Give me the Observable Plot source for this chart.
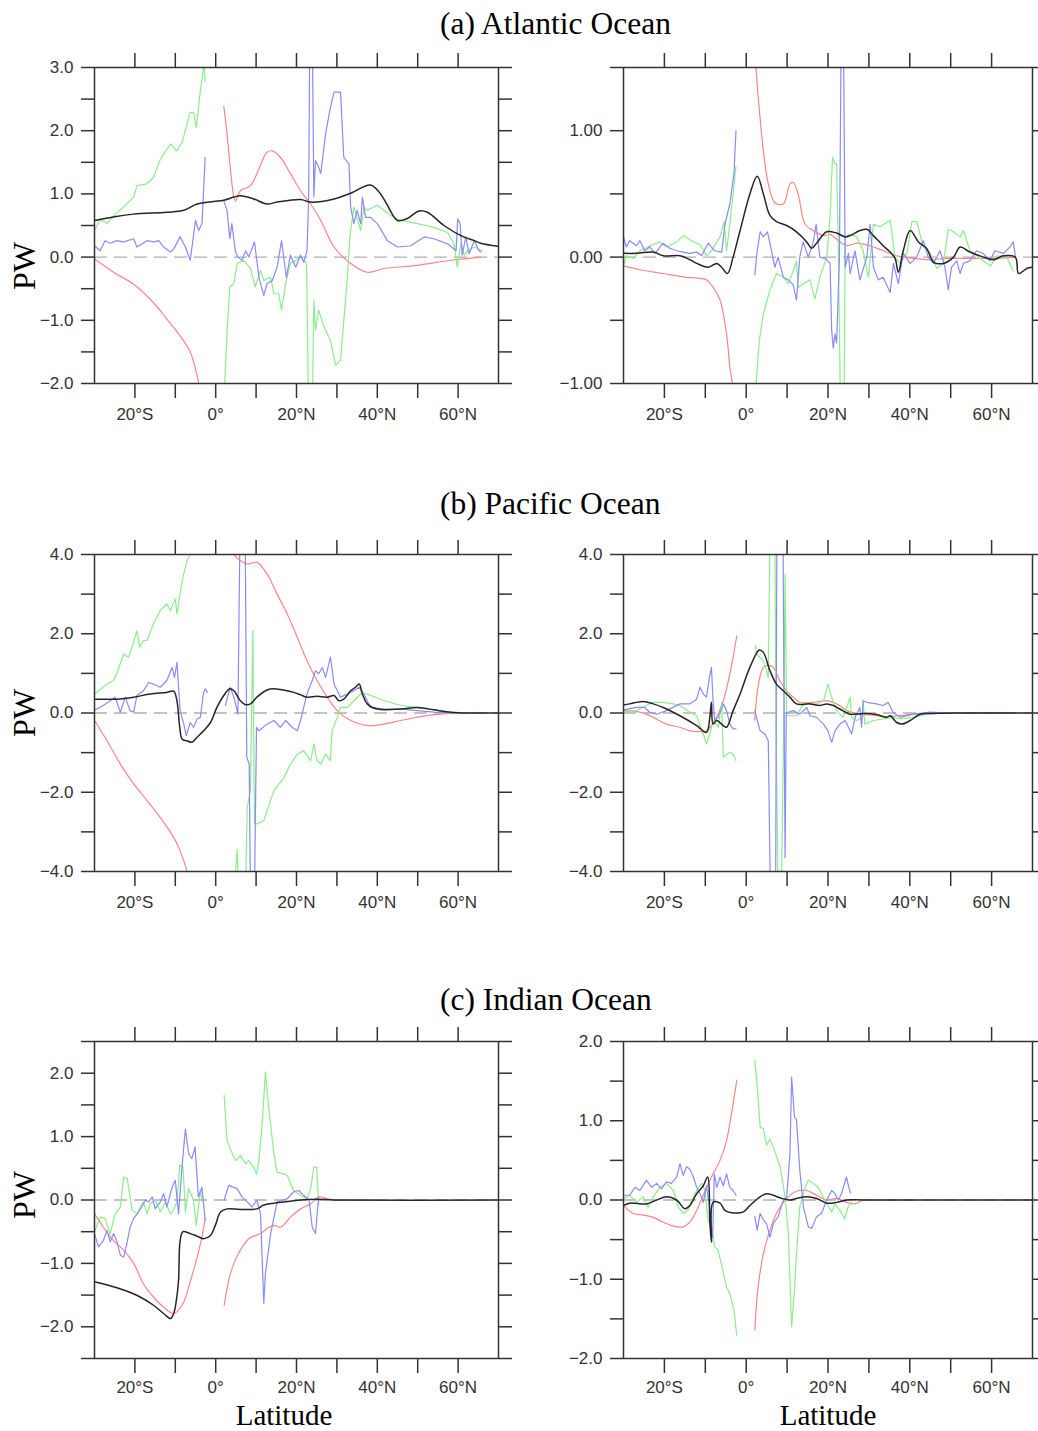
<!DOCTYPE html>
<html><head><meta charset="utf-8">
<script src="https://cdn.jsdelivr.net/npm/d3@7"></script>
<script src="https://cdn.jsdelivr.net/npm/@observablehq/plot@0.6"></script>
<style>
body{margin:0;background:#fff;}
#fig{position:relative;width:1038px;height:1431px;overflow:hidden;background:#fff;}
.panel{position:absolute;}
#overlay{position:absolute;left:0;top:0;pointer-events:none;}
</style></head><body><div id="fig"></div>
<script>
const GAP = [NaN, NaN];

// ---- tick values / labels ----
const xTicks = [-20,-10,0,10,20,30,40,50,60];
const xLabelTicks = [-20,0,20,40,60];
const yTicksAtlL = [-2,-1.5,-1,-0.5,0,0.5,1,1.5,2,2.5,3];
const yLabelsAtlL = [-2,-1,0,1,2,3];
const yTicksAtlR = [-1,-0.5,0,0.5,1,1.5];
const yLabelsAtlR = [-1,0,1];
const yTicksPac = [-4,-3,-2,-1,0,1,2,3,4];
const yLabelsPac = [-4,-2,0,2,4];
const yTicksIndL = [-2.5,-2,-1.5,-1,-0.5,0,0.5,1,1.5,2,2.5];
const yLabelsIndL = [-2,-1,0,1,2];
const yTicksIndR = [-2,-1.5,-1,-0.5,0,0.5,1,1.5,2];
const yLabelsIndR = [-2,-1,0,1,2];
const titles = ["(a) Atlantic Ocean","(b) Pacific Ocean","(c) Indian Ocean"];

// ---- (a) Atlantic, left ----
const atlL_black = [[-30,0.58],[-25,0.64],[-20.3,0.68],[-12.1,0.71],[-7.9,0.74],[-4.6,0.84],[-0.5,0.88],[2,0.9],[4.5,0.95],[6.1,0.97],[9.4,0.92],[12.7,0.84],[15.2,0.87],[21,0.91],[23.5,0.87],[29.3,0.92],[33.4,1.01],[38.3,1.14],[40.8,1.0],[42.5,0.82],[45,0.58],[47.4,0.61],[50.3,0.73],[52.4,0.71],[56.5,0.5],[60.7,0.34],[64,0.26],[65.6,0.22],[70,0.17]];
const atlL_red = [[-30,-0.03],[-25,-0.25],[-20.3,-0.43],[-15,-0.75],[-12.1,-0.98],[-9.6,-1.18],[-6.3,-1.5],[-4.2,-2.0],[-3,-2.6],GAP,[2.0,2.39],[2.8,1.95],[3.6,1.42],[4.5,0.95],[4.9,0.89],[6.1,1.05],[8.6,1.13],[10.2,1.32],[12.7,1.66],[14,1.68],[16,1.58],[18.5,1.32],[21,1.05],[23.5,0.84],[26,0.58],[29.3,0.16],[33.4,-0.1],[37.5,-0.24],[41.7,-0.18],[49.9,-0.13],[58.2,-0.05],[65.6,0]];
const atlL_green = [[-30,0.42],[-28.6,0.6],[-26.9,0.53],[-24.9,0.68],[-22.8,0.79],[-20.3,0.95],[-19.5,1.13],[-17,1.16],[-15.4,1.26],[-13.7,1.55],[-11.2,1.79],[-9.6,1.68],[-8.3,1.82],[-6.3,2.29],[-5.5,2.29],[-4.8,2.05],[-3.8,2.63],[-2.9,3.05],[-2.6,2.78],GAP,[2.0,-2.3],[2.8,-1.21],[3.5,-0.47],[4.5,-0.42],[5.3,-0.1],[6.9,-0.05],[8.6,-0.18],[9.8,-0.47],[11.1,-0.21],[11.9,-0.37],[13.6,-0.32],[14.4,-0.58],[15.6,-0.58],[16.3,-0.84],[17.3,-0.42],[18.5,-0.1],[21,0],[22.5,-0.1],[23.0,-2.5],[23.9,-2.5],[24.3,-0.68],[24.7,-1.16],[25.5,-0.84],[26.8,-1.1],[28.4,-1.32],[29.7,-1.71],[30.9,-1.63],[32.6,-0.32],[33.2,0.32],[34.2,0.79],[35.9,0.42],[36.7,0.79],[37.5,0.74],[40,0.82],[43.3,0.66],[45.8,0.58],[49.9,0.53],[54,0.47],[57.4,0.39],[59,0.21],[59.8,-0.16],[60.7,0.21],[61.5,0.03],[62.3,0.1],[64,0.16],[66,0.1]];
const atlL_blue = [[-30,0.18],[-28.6,0.1],[-27.4,0.26],[-26.1,0.22],[-24.5,0.26],[-22.8,0.24],[-20.3,0.29],[-19.5,0.16],[-17,0.26],[-15.4,0.24],[-14.1,0.26],[-12.9,0.16],[-11.2,0.08],[-10.4,0.13],[-8.8,0.32],[-7.5,0.16],[-6.3,-0.05],[-5,0.58],[-4.2,0.42],[-3.4,0.53],[-2.6,1.58],GAP,[2.0,0.89],[2.8,0.74],[3.5,0.29],[4.0,0.53],[4.9,0.08],[5.5,0],[6.5,-0.05],[7.4,0.1],[8.2,0],[9.6,0.24],[10.7,-0.32],[11.9,-0.61],[12.7,-0.42],[14,-0.37],[15.2,-0.16],[16.3,0.26],[17.5,-0.32],[18.5,0.03],[19.8,-0.16],[21,0.03],[21.8,-0.08],[22.6,0.1],[23.0,0.9],[23.3,3.6],[23.9,3.6],[24.3,0.95],[24.7,1.53],[25.5,1.42],[26,1.32],[27.2,1.95],[28.4,2.37],[29.3,2.61],[30.9,2.61],[31.7,1.58],[33,1.47],[33.4,0.79],[34.2,0.53],[35,0.74],[35.9,0.53],[36.3,0.95],[37.1,0.63],[38.3,0.63],[40,0.53],[42.5,0.26],[45,0.16],[48.3,0.18],[51.6,0.32],[54,0.29],[57.4,0.21],[59.5,0.1],[59.9,0.6],[60.5,0.53],[61,0.03],[61.9,0.32],[62.7,0.05],[64,0.26],[65.2,0.1],[65.6,0.08]];

// ---- (a) Atlantic, right ----
const atlR_black = [[-30,0.03],[-26.8,0.03],[-22.7,0.04],[-20.3,0.01],[-16.2,0.01],[-13.8,-0.02],[-12.1,-0.05],[-9.3,-0.08],[-7.2,-0.05],[-6,-0.08],[-4.6,-0.13],[-3.2,0],[-1.5,0.21],[0.9,0.5],[2.7,0.64],[4.2,0.5],[5.8,0.33],[7.4,0.28],[9.9,0.25],[12.3,0.2],[14.8,0.12],[16,0.07],[17.2,0.11],[19.7,0.2],[22.1,0.19],[24.2,0.16],[25.4,0.17],[27.8,0.21],[29.5,0.22],[31.1,0.17],[33.5,0.09],[35.2,0.04],[36.4,-0.01],[37.2,-0.12],[38.4,0.05],[40.1,0.21],[42.1,0.12],[44.1,0.07],[45.8,-0.04],[48.2,-0.05],[50.7,0],[52.3,0.08],[54.7,0.04],[58,0],[60.5,-0.02],[62.9,0.01],[65.8,0],[66.6,-0.13],[68.6,-0.09],[70,-0.08]];
const atlR_red = [[-30,-0.07],[-26,-0.1],[-20.3,-0.13],[-14.6,-0.16],[-9.7,-0.18],[-8.1,-0.24],[-6.4,-0.34],[-4.8,-0.61],[-4,-0.87],[-3.4,-1.0],[-2.9,-1.3],GAP,[2.2,1.8],[2.4,1.5],[3.4,1.1],[4.2,0.84],[5.4,0.58],[7,0.43],[9.1,0.42],[10.7,0.58],[11.5,0.59],[12.7,0.5],[14.4,0.26],[16.4,0.21],[18.9,0.17],[20.5,0.18],[22.9,0.12],[24.6,0.09],[27,0.11],[30.3,0.09],[33.5,0.05],[36.8,0.01],[40.9,-0.01],[45,-0.02],[49,-0.01],[53.1,-0.01],[61.3,-0.01],[65.8,0]];
const atlR_green = [[-30,-0.07],[-29.3,0.01],[-27.6,-0.01],[-26,0.05],[-22.7,0.1],[-21.1,0.12],[-19.5,0.08],[-17,0.12],[-15.4,0.17],[-12.9,0.12],[-11.3,0.1],[-9.7,0.01],[-8.5,0.05],[-6.4,0.16],[-5.4,0.28],[-4.8,0.05],[-4,0.26],[-2.5,0.72],GAP,[2.2,-1.3],[2.4,-1.0],[3.2,-0.66],[4.2,-0.45],[5.8,-0.26],[7.4,-0.13],[9.1,-0.16],[10.3,-0.21],[11.5,-0.11],[12.3,-0.03],[12.7,-0.24],[14,-0.21],[15.6,-0.18],[16.8,-0.33],[18,-0.16],[19.7,0],[20.5,0.32],[21.1,0.79],[21.7,0.74],[22.1,0.74],[22.5,0.11],[23.1,-1.3],[23.9,-1.3],[24.2,0.16],[25.4,0.18],[27,0.16],[28.6,0.05],[29.9,-0.16],[31.1,0.26],[32.7,0.24],[35.2,0.29],[36.4,0],[37.6,-0.05],[39.3,0.03],[40.5,0.28],[41.7,0.28],[43.3,0.08],[45,0.03],[46.6,-0.09],[48.2,-0.05],[49.4,0.22],[50.7,0.2],[52.3,0.16],[53.1,0.21],[54.7,0.05],[57.2,-0.01],[59.7,-0.07],[61.3,0.01],[63.7,0],[65.3,-0.11]];
const atlR_blue = [[-30,0.16],[-29.3,0.08],[-28.5,0.13],[-26.8,0.09],[-26,0.13],[-24.8,0.05],[-23.6,0.08],[-22.3,0.03],[-20.3,0.11],[-18.7,0.07],[-17,0.05],[-15.4,0.04],[-13.8,0.03],[-12.1,0.04],[-10.9,0.01],[-9.3,0.11],[-7.7,0.05],[-6,0.04],[-5.2,0.26],[-4,0.42],[-3,0.66],[-2.5,1.0],GAP,[2.1,-0.14],[2.7,0.05],[3.4,0.2],[4.2,0.16],[5.2,0.2],[5.8,0.11],[7,-0.08],[7.8,0],[9.1,-0.16],[10.3,-0.18],[11.5,-0.22],[12.3,-0.34],[13.1,0],[13.9,0.12],[15.2,0],[16.4,0.12],[17.1,0.26],[18,0],[19.3,-0.01],[20.5,-0.05],[20.9,-0.58],[21.3,-0.72],[21.7,-0.61],[22.1,-0.68],[22.8,0],[23.2,1.7],[23.8,1.7],[24.2,-0.08],[25,0.03],[25.4,-0.13],[26.6,0.05],[27.8,-0.18],[29.5,0],[30.3,0.26],[31.1,-0.08],[32.3,-0.18],[33.5,-0.16],[35.2,-0.28],[36,-0.05],[37.2,-0.21],[38.4,0.03],[40.1,-0.05],[41.7,0],[43.3,0.13],[44.5,0],[45.8,-0.05],[47.4,0.05],[48.6,-0.08],[49.4,-0.26],[50.2,-0.08],[51.5,-0.03],[52.3,-0.13],[53.1,-0.05],[54.7,-0.03],[56.3,0.05],[57.9,0.03],[59.6,-0.03],[60.8,0.05],[62.9,0.03],[64.5,0.08],[65.3,0.12],[65.8,0.01]];

// ---- (b) Pacific, left ----
const pacL_black = [[-30,0.35],[-24.5,0.35],[-20.3,0.4],[-16.2,0.48],[-12.1,0.52],[-10.4,0.55],[-9.6,0.31],[-8.9,-0.36],[-8.3,-0.66],[-7.1,-0.7],[-5.9,-0.74],[-4.6,-0.61],[-3,-0.45],[-1.3,-0.24],[0.3,0.14],[2,0.44],[3.5,0.61],[4.5,0.56],[6.1,0.31],[7.4,0.21],[8.6,0.23],[10.2,0.4],[12.7,0.58],[14.4,0.61],[17.7,0.56],[19.3,0.52],[21,0.46],[22.6,0.4],[25.1,0.42],[27.6,0.4],[29.3,0.44],[30.5,0.31],[31.7,0.35],[33.4,0.56],[34.6,0.65],[35.5,0.73],[36.3,0.48],[37.5,0.23],[40,0.1],[45.8,0.1],[49.9,0.14],[54,0.08],[58.2,0.02],[62.3,0],[70,0]];
const pacL_red = [[-30,-0.19],[-26.9,-0.7],[-23.6,-1.29],[-20.3,-1.79],[-17,-2.21],[-13.7,-2.64],[-10.4,-3.14],[-8.8,-3.48],[-7.1,-4.0],[-6,-4.5],GAP,[4.2,4.1],[4.5,4.0],[6.1,3.85],[7.8,3.76],[10.2,3.8],[12.7,3.51],[15.2,3.0],[17.7,2.5],[20.2,1.91],[22.6,1.32],[25.1,0.82],[27.6,0.4],[30.1,0.06],[33.4,-0.19],[37.5,-0.32],[41.7,-0.28],[45.8,-0.19],[50.7,-0.09],[55.7,-0.03],[62.3,0],[65.6,0]];
const pacL_green = [[-30,0.48],[-26.9,0.73],[-25.3,0.82],[-24.5,0.99],[-22.8,1.49],[-21.6,1.4],[-20.7,1.66],[-19.5,2.08],[-18.8,1.66],[-17.9,1.83],[-17,1.83],[-15.4,2.25],[-13.7,2.59],[-12.1,2.75],[-11.2,2.59],[-10,2.88],[-9.6,2.5],[-8.3,3.34],[-7.1,3.85],[-6.3,4.0],[-5.5,4.5],GAP,[4.6,-4.5],[5.3,-3.45],[5.7,-4.5],[7.4,-4.5],[7.8,-2.38],[8.6,-1.96],[9.2,2.08],[9.6,-2.8],[10.2,-2.8],[11.9,-2.72],[14.4,-1.96],[16.9,-1.63],[18.5,-1.29],[20.2,-1.04],[21.8,-0.95],[23.5,-1.2],[24.3,-0.78],[25.1,-1.2],[26,-1.29],[27.2,-1.04],[28.4,-1.2],[28.8,-0.45],[30.1,-0.11],[30.9,0.14],[32.6,0.14],[34.2,0.31],[35.9,0.48],[37.5,0.48],[41.7,0.31],[45.8,0.19],[49.9,0.14],[54,0.08],[58.2,0.02],[62.3,0]];
const pacL_blue = [[-30,0.08],[-28.6,0.14],[-26.1,0.31],[-24.9,0.4],[-23.6,0.02],[-22.4,0.4],[-21.2,0.06],[-20.3,0.02],[-19.5,0.44],[-17.9,0.56],[-16.6,0.77],[-15.4,0.73],[-13.7,0.65],[-12.1,0.82],[-10.8,1.15],[-10.2,0.9],[-9.6,1.28],[-8.8,0.06],[-7.9,-0.28],[-7.3,-0.57],[-6.3,-0.24],[-5.5,-0.36],[-4.6,-0.15],[-3.8,-0.11],[-3,0.52],[-2.6,0.61],[-2.1,0.52],GAP,[2.4,0.19],[3.6,0.65],[4.5,0.4],[5.5,-0.03],[6.0,4.5],[7.3,4.5],[7.7,-1.12],[8.3,-1.29],[8.6,-4.5],[9.6,-4.5],[10.1,-0.36],[10.7,-0.45],[12.7,-0.28],[14.4,-0.19],[16,-0.36],[17.3,-0.19],[18.9,-0.36],[20.2,-0.45],[21,-0.19],[22.6,0.48],[23.9,0.82],[24.7,1.07],[25.5,0.99],[26.4,1.15],[27.2,0.9],[28.4,1.41],[29.3,0.73],[30.1,0.56],[30.9,0.4],[32.6,0.48],[34.2,0.56],[35.5,0.65],[36.7,0.48],[38.3,0.14],[41.7,0.1],[45.8,0.1],[49.9,0.06],[54,0.02],[59,0]];

// ---- (b) Pacific, right ----
const pacR_black = [[-30,0.2],[-28.5,0.23],[-25.2,0.29],[-22.7,0.23],[-20.3,0.14],[-16.2,-0.07],[-12.1,-0.32],[-9.7,-0.49],[-8.9,-0.11],[-8.5,0.27],[-8.1,-0.28],[-7.2,-0.19],[-5.6,-0.32],[-4.8,-0.36],[-3.2,0.06],[-1.5,0.48],[0.9,1.15],[3.2,1.59],[4.2,1.53],[5.8,1.07],[7.4,0.73],[9.1,0.56],[10.7,0.4],[12.3,0.23],[15.6,0.23],[18,0.19],[19.7,0.23],[21.3,0.19],[22.9,0.1],[25.4,-0.03],[28.6,-0.01],[31.9,-0.04],[34.3,-0.11],[35.2,-0.07],[36.8,-0.24],[38,-0.28],[40.1,-0.19],[42.5,-0.03],[45,-0.01],[53.1,0],[70,0]];
const pacR_red = [[-30,0.06],[-26,0.02],[-22.7,-0.11],[-19.5,-0.28],[-16.2,-0.36],[-13.8,-0.45],[-11.3,-0.47],[-9.7,-0.45],[-7.7,-0.19],[-5.6,0.31],[-4,0.99],[-3.2,1.41],[-2.3,1.95],GAP,[2.1,-0.18],[3,0.73],[4.2,1.15],[5.4,1.2],[6.6,1.15],[8.2,0.82],[9.9,0.56],[11.5,0.4],[13.1,0.27],[16.4,0.27],[19.7,0.31],[22.1,0.23],[24.6,0.06],[27,-0.03],[30.3,-0.05],[33.5,-0.09],[36.8,-0.07],[40.9,-0.03],[45,-0.01],[53.1,0],[65.8,0]];
const pacR_green = [[-30,0.02],[-26.8,0.06],[-24.4,0.19],[-22.7,0.27],[-20.3,0.27],[-17.8,0.23],[-16.2,0.19],[-13.8,0.02],[-12.1,-0.07],[-11.3,-0.32],[-10.5,-0.53],[-9.7,-0.78],[-8.9,-0.53],[-8.1,-0.19],[-6.8,-0.36],[-6,0.27],[-5.6,-1.12],[-4.8,-1.04],[-4,-0.99],[-3.2,-1.04],[-2.5,-1.2],GAP,[2.3,1.7],[2.5,1.49],[4.2,1.32],[5.4,0.9],[5.8,4.5],[7,4.5],[7.3,-0.28],[7.8,-4.5],[8.6,-4.5],[9.2,-0.1],[9.5,3.5],[9.9,-0.07],[11.5,-0.07],[12.3,-0.07],[14,0.23],[17.2,0.23],[18.9,0.31],[20,0.73],[20.9,0.4],[22.1,0.06],[23.7,-0.11],[24.6,0.14],[25.4,0.4],[25.8,-0.11],[27,-0.19],[28.5,-0.11],[28.6,0.31],[29,-0.28],[31.1,-0.19],[33.5,-0.15],[35.9,-0.11],[37.6,-0.15],[40.9,-0.11],[44.1,-0.03],[49.1,0],[53.1,0]];
const pacR_blue = [[-30,0.08],[-26.8,0.14],[-24.8,0.14],[-23.6,0.02],[-21.9,-0.03],[-19.5,0.06],[-16.2,0.23],[-13.8,0.23],[-12.1,0.35],[-11.3,0.65],[-10.5,0.48],[-9.7,0.4],[-9,0.9],[-8.5,1.15],[-8.1,0.31],[-7.7,-0.19],[-6.8,-0.11],[-5.6,0.23],[-4.8,0.06],[-4,-0.28],[-3.2,-0.4],[-2.5,-0.4],GAP,[2.1,0.06],[3.4,-0.45],[4.6,-0.53],[5.4,-0.7],[5.9,-4.5],[7.2,-4.5],[7.5,4.5],[9.0,4.5],[9.5,-3.65],[9.8,0.0],[10.3,0.02],[11.5,0.06],[13.1,-0.03],[14.8,0.14],[15.6,-0.07],[17.2,-0.11],[18.9,-0.28],[20,-0.45],[20.9,-0.74],[21.7,-0.45],[22.9,-0.28],[24.2,-0.19],[25.8,-0.53],[26.6,-0.11],[27.8,0.14],[28.2,-0.36],[28.6,0.31],[29.5,0.27],[31.9,0.23],[33.5,0.19],[34.7,0.27],[35.9,0.02],[37.6,-0.11],[40.9,-0.03],[45,0.02],[49.1,0],[53.1,-0.01],[61.3,0],[65.8,0]];

// ---- (c) Indian, left ----
const indL_black = [[-30,-1.29],[-26.9,-1.34],[-22.8,-1.42],[-18.7,-1.53],[-15.4,-1.66],[-12.9,-1.79],[-11.2,-1.87],[-10.4,-1.79],[-9.8,-1.61],[-9.2,-1.27],[-8.8,-0.64],[-8.1,-0.5],[-6.3,-0.53],[-4.6,-0.57],[-3,-0.61],[-1.3,-0.56],[-0.1,-0.4],[1.2,-0.19],[2.8,-0.14],[6.1,-0.15],[10.2,-0.14],[11.9,-0.08],[14.4,-0.05],[16.9,-0.03],[21,0],[25.1,0.01],[29.3,0],[70,0]];
const indL_red = [[-30,-0.22],[-27.8,-0.43],[-25.3,-0.64],[-22.8,-0.79],[-20.3,-1.0],[-17.9,-1.32],[-15.4,-1.53],[-12.9,-1.69],[-10.4,-1.79],[-8.3,-1.66],[-6.3,-1.29],[-4.6,-0.9],[-3.4,-0.58],[-2.6,-0.29],GAP,[2.1,-1.66],[3.2,-1.27],[4.5,-1.0],[6.1,-0.79],[8.2,-0.61],[11.1,-0.53],[12.7,-0.45],[14.4,-0.4],[16,-0.43],[18.5,-0.27],[21,-0.14],[23.5,-0.06],[25.5,0.05],[27.6,0.02],[29.3,0],[33.4,0],[37.5,0],[40,0]];
const indL_green = [[-30,-0.5],[-28.6,-0.27],[-27.4,-0.29],[-26.1,-0.53],[-24.9,-0.22],[-23.6,-0.11],[-22.8,0.36],[-21.9,0.34],[-20.7,-0.16],[-19.5,-0.22],[-18.7,-0.11],[-17.9,-0.03],[-17,-0.22],[-16.2,-0.06],[-15,0],[-13.7,-0.19],[-12.5,-0.03],[-11.2,-0.22],[-10.4,-0.16],[-9.6,-0.03],[-8.9,0.55],[-8.1,0.52],[-7.5,-0.19],[-6.7,0.18],[-5.5,0],[-4.8,-0.4],[-3.8,0.15],[-3.4,0],GAP,[2.1,1.65],[2.8,0.94],[3.6,0.81],[4.9,0.62],[6.1,0.7],[7.4,0.57],[8.2,0.62],[9.4,0.52],[10.1,0.41],[10.7,0.62],[11.5,1.2],[12.3,2.02],[13.1,1.47],[14.4,0.73],[15.2,0.44],[17.7,0.39],[19.3,0.15],[21,0.07],[22.6,0.02],[23.5,0.18],[24.3,0.52],[25,0.52],[25.5,-0.08]];
const indL_blue = [[-30,-0.53],[-29,-0.74],[-27.8,-0.64],[-26.9,-0.48],[-26.1,-0.66],[-25.3,-0.53],[-24.5,-0.64],[-23.6,-0.87],[-22.8,-0.9],[-22,-0.69],[-21.2,-0.43],[-20.3,-0.29],[-19.1,-0.19],[-18.3,-0.11],[-17.4,0],[-16.6,-0.03],[-15.7,0.05],[-15,-0.14],[-13.7,-0.03],[-12.9,0.1],[-12.1,-0.11],[-10.8,0.2],[-10,0.31],[-9.2,-0.22],[-8.3,0.55],[-7.5,1.12],[-6.7,0.73],[-5.9,0.65],[-5.1,0.84],[-4.3,0.05],[-3.4,0.2],[-2.6,-0.32],GAP,[2.1,0],[3.2,0.23],[4.5,0.2],[5.3,0.18],[6.5,0.05],[7.8,-0.03],[9,-0.11],[10.2,0],[11.1,-0.22],[11.9,-1.63],[12.3,-1.16],[13.6,-0.53],[15.2,-0.03],[17.7,0.02],[19.3,0.13],[20.6,0.15],[21.8,0.07],[23.1,0],[23.9,-0.43],[24.7,-0.53],[25.1,-0.22],[25.5,0.05]];

// ---- (c) Indian, right ----
const indR_black = [[-30,-0.07],[-28.5,-0.04],[-24.4,-0.05],[-21.9,0],[-19.5,0.04],[-17,0],[-15,-0.11],[-13.8,-0.07],[-12.1,0.08],[-10.5,0.18],[-9.4,0.29],[-8.9,-0.26],[-8.5,-0.53],[-8.1,-0.03],[-6.4,-0.04],[-5.2,-0.13],[-3.6,-0.16],[-0.7,-0.15],[0.9,-0.07],[3.4,0.04],[5,0.08],[6.6,0.06],[8.7,0.02],[10.7,0],[12.3,0.02],[14.8,0.04],[17.2,0.02],[19.7,-0.04],[22.1,-0.03],[24.6,0],[28.6,0],[70,0]];
const indR_red = [[-30,-0.07],[-27.6,-0.17],[-25.2,-0.19],[-22.7,-0.22],[-20.3,-0.28],[-17.8,-0.33],[-15.4,-0.34],[-13.8,-0.28],[-12.1,-0.13],[-10.5,0.06],[-8.5,0.29],[-6.4,0.5],[-4.8,0.75],[-3.6,1.09],[-2.3,1.51],GAP,[2.1,-1.64],[2.9,-1.1],[4.2,-0.68],[5.8,-0.38],[7.8,-0.13],[9.9,0.02],[12.3,0.11],[14.8,0.12],[17.2,0.06],[19.7,0],[22.1,0.02],[24.6,-0.03],[26.6,-0.05],[28.6,0],[32.7,0],[36.8,0],[40.1,0]];
const indR_green = [[-30,0.02],[-28.5,0.06],[-26.8,-0.03],[-25.2,0.04],[-24,-0.09],[-22.7,0.04],[-21.1,0.16],[-19.5,0.21],[-17.8,0.12],[-16.6,-0.09],[-15.4,-0.17],[-14.2,-0.13],[-12.9,0.04],[-11.7,0.16],[-10.9,0.21],[-10.1,0.12],[-9.3,-0.26],[-8.5,-0.34],[-7.7,-0.59],[-6.9,-0.63],[-6.1,-0.8],[-4.8,-1.1],[-4,-1.18],[-3,-1.39],[-2.3,-1.71],GAP,[2.1,1.76],[2.8,1.38],[3.4,0.92],[4.2,0.9],[5,0.69],[5.8,0.77],[7,0.61],[8.3,0.42],[9.5,0.04],[10.3,-0.42],[11.1,-1.6],[11.8,-1.14],[12.3,-0.68],[13.1,-0.09],[14.4,0.16],[15.2,0.25],[16.4,0.21],[17.6,0.16],[18.8,0.04],[20,-0.07],[20.9,-0.15],[21.7,-0.05],[22.9,-0.13],[24.1,-0.24],[24.9,-0.09],[25.7,-0.03]];
const indR_blue = [[-30,0.06],[-28.5,0.06],[-27.2,0.16],[-26,0.12],[-24.4,0.25],[-23.1,0.16],[-21.9,0.21],[-20.7,0.14],[-19.5,0.23],[-18.3,0.21],[-17,0.29],[-16.2,0.46],[-15.4,0.31],[-14.6,0.42],[-13.8,0.39],[-12.9,0.29],[-12.1,0.16],[-11.3,0.08],[-10.5,-0.03],[-9.7,0.18],[-8.9,-0.13],[-8.2,-0.47],[-7.8,0.33],[-7.2,0.16],[-6.4,0.29],[-5.6,0.18],[-4.8,0.33],[-4,0.16],[-3.2,0.12],[-2.5,0.06],GAP,[2.1,-0.21],[2.7,-0.38],[3.4,-0.17],[4.2,-0.25],[5,-0.3],[5.8,-0.47],[6.6,-0.3],[7.8,-0.21],[9.1,0],[9.9,0.04],[10.7,0.58],[11.1,1.55],[11.8,1.05],[12.3,1.01],[13.1,0.38],[14,-0.09],[15.2,-0.34],[16,-0.36],[17.2,-0.21],[18.4,-0.17],[19.7,0],[20.9,0.12],[21.7,0.08],[22.5,0],[23.3,0.08],[24.5,0.29],[25.2,0.14],[25.5,0.09]];

// ---- styles ----
const RED = "#ff8585", GREEN = "#8aee8a", BLUE = "#8a8aff", BLACK = "#262626", AXIS = "#333";
const FONT = "'Liberation Sans', Arial, Helvetica, sans-serif";
const SERIF = "'Liberation Serif', 'Times New Roman', serif";

const fig = document.getElementById("fig");

const rows = [{top: 37, fh: 316, pad: 9}, {top: 524, fh: 317, pad: 9}, {top: 1011, fh: 317, pad: 7}];
const cols = [{left: 0, width: 530, ml: 94, mr: 32}, {left: 530, width: 508, ml: 93, mr: 6}];

const panels = [
  {r:0,c:0, y:[-2,3],   yt:yTicksAtlL, yl:yLabelsAtlL, fmt:".1f", s:[atlL_red, atlL_green, atlL_blue, atlL_black]},
  {r:0,c:1, y:[-1,1.5], yt:yTicksAtlR, yl:yLabelsAtlR, fmt:".2f", s:[atlR_red, atlR_green, atlR_blue, atlR_black]},
  {r:1,c:0, y:[-4,4],   yt:yTicksPac,  yl:yLabelsPac,  fmt:".1f", s:[pacL_red, pacL_green, pacL_blue, pacL_black]},
  {r:1,c:1, y:[-4,4],   yt:yTicksPac,  yl:yLabelsPac,  fmt:".1f", s:[pacR_red, pacR_green, pacR_blue, pacR_black]},
  {r:2,c:0, y:[-2.5,2.5], yt:yTicksIndL, yl:yLabelsIndL, fmt:".1f", s:[indL_red, indL_green, indL_blue, indL_black]},
  {r:2,c:1, y:[-2,2],   yt:yTicksIndR, yl:yLabelsIndR, fmt:".1f", s:[indR_red, indR_green, indR_blue, indR_black]}
];

const xFmt = d => !xLabelTicks.includes(d) ? "" : d < 0 ? `${-d}°S` : d === 0 ? "0°" : `${d}°N`;
const colors = [RED, GREEN, BLUE, BLACK];
const curves = ["catmull-rom", "linear", "linear", "catmull-rom"];

for (const p of panels) {
  const row = rows[p.r], col = cols[p.c];
  const mt = 30, mb = 48;
  const fmt = d3.format(p.fmt);
  const chart = Plot.plot({
    width: col.width,
    height: mt + row.fh + mb,
    marginLeft: col.ml, marginRight: col.mr, marginTop: mt, marginBottom: mb,
    style: {fontFamily: FONT, fontSize: "17px", background: "transparent", color: AXIS},
    x: {domain: [-30, 70], axis: null},
    y: {domain: p.y, axis: null},
    marks: [
      Plot.ruleY([0], {stroke: "#b0b0b0", strokeWidth: 1.3, strokeDasharray: "13,7"}),
      ...p.s.map((arr, i) => Plot.line(arr, {
        x: d => d[0], y: d => d[1], stroke: colors[i], curve: curves[i],
        strokeWidth: i === 3 ? 1.5 : 1.2, clip: true
      })),
      Plot.frame({stroke: AXIS, strokeWidth: 1.5}),
      Plot.axisX(xTicks, {anchor: "bottom", tickSize: 15, tickPadding: row.pad, tickFormat: xFmt, stroke: AXIS, fill: AXIS, strokeWidth: 1.5, fontSize: 17, label: null}),
      Plot.axisX(xTicks, {anchor: "top", tickSize: 15, tickFormat: () => "", stroke: AXIS, strokeWidth: 1.5, label: null}),
      Plot.axisY(p.yt, {anchor: "left", tickSize: 13, tickPadding: 8, tickFormat: d => p.yl.includes(d) ? fmt(d) : "", stroke: AXIS, fill: AXIS, strokeWidth: 1.5, fontSize: 17, label: null}),
      Plot.axisY(p.yt, {anchor: "right", tickSize: 13, tickFormat: () => "", stroke: AXIS, strokeWidth: 1.5, label: null})
    ]
  });
  const div = document.createElement("div");
  div.className = "panel";
  div.style.left = col.left + "px";
  div.style.top = (row.top) + "px";
  div.appendChild(chart);
  fig.appendChild(div);
}

// ---- text overlay: titles, PW, Latitude ----
const svg = d3.select(fig).append("svg").attr("id", "overlay").attr("width", 1038).attr("height", 1431);
const titleBase = [34, 514, 1010];
titles.forEach((t, i) => {
  svg.append("text").attr("x", 440).attr("y", titleBase[i])
    .attr("font-family", SERIF).attr("font-size", 31.5).attr("fill", "#000").text(t);
});
const pwCenter = [266, 713, 1195];
pwCenter.forEach(cy => {
  svg.append("text").attr("transform", `translate(35,${cy}) rotate(-90)`)
    .attr("text-anchor", "middle").attr("font-family", SERIF).attr("font-size", 32).attr("fill", "#000").text("PW");
});
[284, 828].forEach(cx => {
  svg.append("text").attr("x", cx).attr("y", 1424.5).attr("text-anchor", "middle")
    .attr("font-family", SERIF).attr("font-size", 29).attr("fill", "#000").text("Latitude");
});
</script></body></html>
